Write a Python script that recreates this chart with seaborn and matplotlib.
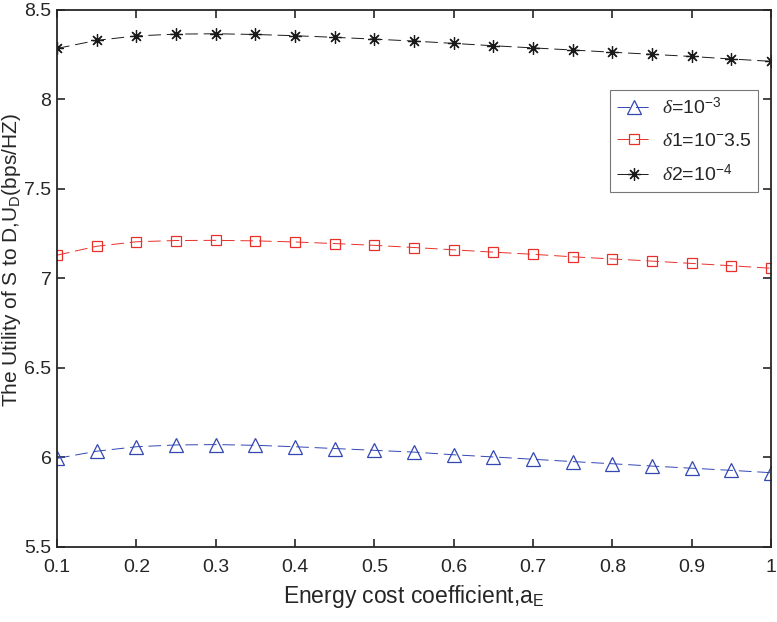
import numpy as np
import pandas as pd
import matplotlib
matplotlib.use('Agg')
import matplotlib.pyplot as plt
import seaborn as sns

# Energiekosten-Koeffizient
a_e = [0.1, 0.15, 0.2, 0.25, 0.3, 0.35, 0.4, 0.45, 0.5, 0.55,
       0.6, 0.65, 0.7, 0.75, 0.8, 0.85, 0.9, 0.95, 1.0]

u_delta = [5.995, 6.035, 6.06, 6.07, 6.072, 6.068, 6.06, 6.05, 6.04, 6.03,
           6.015, 6.003, 5.99, 5.977, 5.965, 5.952, 5.94, 5.928, 5.915]
u_delta1 = [7.13, 7.18, 7.205, 7.212, 7.213, 7.21, 7.204, 7.195, 7.185, 7.173,
            7.16, 7.147, 7.135, 7.121, 7.109, 7.097, 7.084, 7.071, 7.057]
u_delta2 = [8.285, 8.33, 8.355, 8.365, 8.367, 8.363, 8.356, 8.347, 8.337, 8.326,
            8.313, 8.3, 8.288, 8.276, 8.264, 8.252, 8.24, 8.226, 8.213]

labels = [r'$\delta$=10$^{-3}$', r'$\delta$1=10$^{-}$3.5', r'$\delta$2=10$^{-4}$']

df = pd.DataFrame({
    'a_E': a_e * 3,
    'U': u_delta + u_delta1 + u_delta2,
    'serie': [labels[0]] * len(a_e) + [labels[1]] * len(a_e) + [labels[2]] * len(a_e),
})

sns.set_theme(style='ticks')
plt.rcParams['font.family'] = ['Liberation Sans', 'DejaVu Sans']
plt.rcParams['mathtext.fontset'] = 'custom'
plt.rcParams['mathtext.rm'] = 'Liberation Sans'
plt.rcParams['mathtext.it'] = 'Liberation Serif:italic'

fig = plt.figure(figsize=(7.77, 6.22), dpi=100)
ax = fig.add_axes([0.0734, 0.1206, 0.919, 0.8634])

farben = {labels[0]: '#3246b4', labels[1]: '#e8302a', labels[2]: '#1a1a1a'}
marker = {labels[0]: '^', labels[1]: 's', labels[2]: (8, 2, 0)}
groesse = {labels[0]: 9.5, labels[1]: 7.5, labels[2]: 9}

for lab in labels:
    sub = df[df['serie'] == lab]
    sns.lineplot(data=sub, x='a_E', y='U', ax=ax, color=farben[lab], label=lab,
                 linewidth=0.7, linestyle=(0, (13, 6)),
                 marker=marker[lab], markersize=groesse[lab],
                 markerfacecolor='none', markeredgecolor=farben[lab],
                 markeredgewidth=0.9)

ax.set_xlim(0.1, 1.0)
ax.set_ylim(5.5, 8.5)
ax.set_xticks(np.arange(0.1, 1.01, 0.1))
ax.set_xticklabels(['0.1', '0.2', '0.3', '0.4', '0.5', '0.6', '0.7', '0.8', '0.9', '1'])
ax.set_yticks([5.5, 6, 6.5, 7, 7.5, 8, 8.5])
ax.set_yticklabels(['5.5', '6', '6.5', '7', '7.5', '8', '8.5'])
ax.tick_params(direction='in', top=True, right=True, length=6, width=1.2,
               labelsize=14, colors='#262626', labelcolor='#262626')
ax.tick_params(axis='x', pad=9)
ax.tick_params(axis='y', pad=4)
for s in ax.spines.values():
    s.set_linewidth(1.3)
    s.set_color('#262626')

ax.set_xlabel(r'Energy cost coefficient,a$_{\mathrm{E}}$', fontsize=16.5, color='#262626', labelpad=5)
ax.set_ylabel(r'The Utility of S to D,U$_{\mathrm{D}}$(bps/HZ)', fontsize=15, color='#262626')
ax.yaxis.set_label_coords(-0.047, 0.534)

leg = ax.legend(loc='upper right', bbox_to_anchor=(0.982, 0.851), fontsize=14,
                frameon=True, fancybox=False, edgecolor='#555555',
                handlelength=1.8, handletextpad=0.5, borderpad=0.35,
                labelspacing=0.72, borderaxespad=0)
leg.get_frame().set_linewidth(0.8)

fig.savefig('out.png', dpi=100)
